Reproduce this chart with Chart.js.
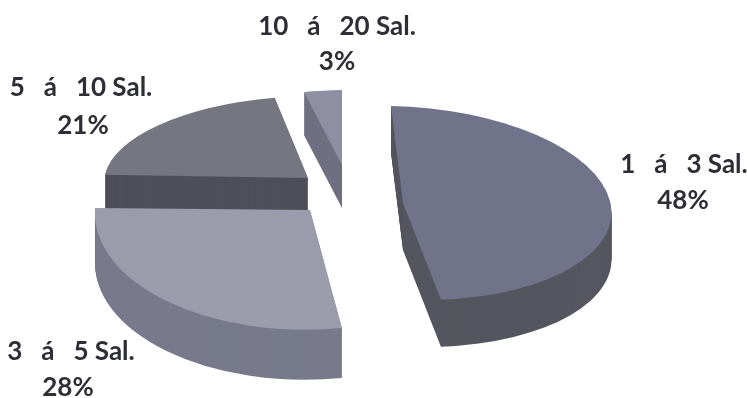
<!DOCTYPE html>
<html lang="pt">
<head>
<meta charset="UTF-8">
<title>Faixa salarial</title>
<script src="https://cdn.jsdelivr.net/npm/chart.js"></script>
<style>
  html, body { margin: 0; background: #fff; }
  canvas { position: absolute; left: 0; top: 0; }
</style>
</head>
<body>
<canvas id="pizza" width="747" height="398"></canvas>
<script>
const categorias = ['1   á   3 Sal.', '3   á   5 Sal.', '5   á   10 Sal.', '10   á   20 Sal.'];
const valores = [48, 28, 21, 3];

const coresTopo = ['#70738a', '#9a9cab', '#75767f', '#8e8fa3'];
const coresLado = ['#55565f', '#787a8c', '#4f4f59', '#6f7081'];

// projecao de cada fatia: centro, eixo x e eixo y da elipse
const faces = [
  { c: [403, 203], ex: [208, 4],    ey: [12, 97],   prof: 47 },
  { c: [310, 210], ex: [215, -5.5], ey: [5, 119.6], prof: 50 },
  { c: [308, 178], ex: [203.7, -2], ey: [-5, 82],   prof: 47 },
  { c: [342, 165], ex: [203, -3.5], ey: [0, 75],    prof: 43 }
];
const ordemDesenho = [2, 3, 0, 1]; // de tras para frente

const posRotulos = [
  { x: 684, y: 165, xp: 683, yp: 201 },
  { x: 71, y: 352, xp: 68, yp: 388 },
  { x: 81, y: 88, xp: 83, yp: 126 },
  { x: 337, y: 27, xp: 337, yp: 62 }
];

function desenhaFatia(ctx, arc, f, cor, desloc) {
  const r = arc.outerRadius;
  const [ax, ay] = f.ex, [bx, by] = f.ey;
  ctx.save();
  ctx.translate(0, desloc);
  ctx.transform(ax / r, ay / r, bx / r, by / r,
    f.c[0] - (ax * arc.x + bx * arc.y) / r,
    f.c[1] - (ay * arc.x + by * arc.y) / r);
  const original = arc.options;
  arc.options = Object.assign({}, original, { backgroundColor: cor, borderWidth: 0 });
  arc.draw(ctx);
  arc.options = original;
  ctx.restore();
}

const pizza3d = {
  id: 'pizza3d',
  beforeDatasetsDraw(chart) {
    const ctx = chart.ctx;
    const arcos = chart.getDatasetMeta(0).data;
    ordemDesenho.forEach(i => {
      for (let d = faces[i].prof; d > 0; d--) {
        desenhaFatia(ctx, arcos[i], faces[i], coresLado[i], d);
      }
      desenhaFatia(ctx, arcos[i], faces[i], coresTopo[i], 0);
    });
    return false; // as fatias ja foram desenhadas aqui
  },
  afterDraw(chart) {
    const ctx = chart.ctx;
    ctx.save();
    ctx.font = 'bold 26px Lato';
    ctx.fillStyle = '#2e2e36';
    ctx.textAlign = 'center';
    ctx.textBaseline = 'middle';
    categorias.forEach((nome, i) => {
      const p = posRotulos[i];
      ctx.fillText(nome, p.x, p.y);
      ctx.fillText(valores[i] + '%', p.xp, p.yp);
    });
    ctx.restore();
  }
};

new Chart(document.getElementById('pizza'), {
  type: 'pie',
  data: {
    labels: categorias,
    datasets: [{ data: valores, backgroundColor: coresTopo, borderWidth: 0 }]
  },
  options: {
    responsive: false,
    animation: false,
    plugins: { legend: { display: false }, tooltip: { enabled: false } }
  },
  plugins: [pizza3d]
});
</script>
</body>
</html>
